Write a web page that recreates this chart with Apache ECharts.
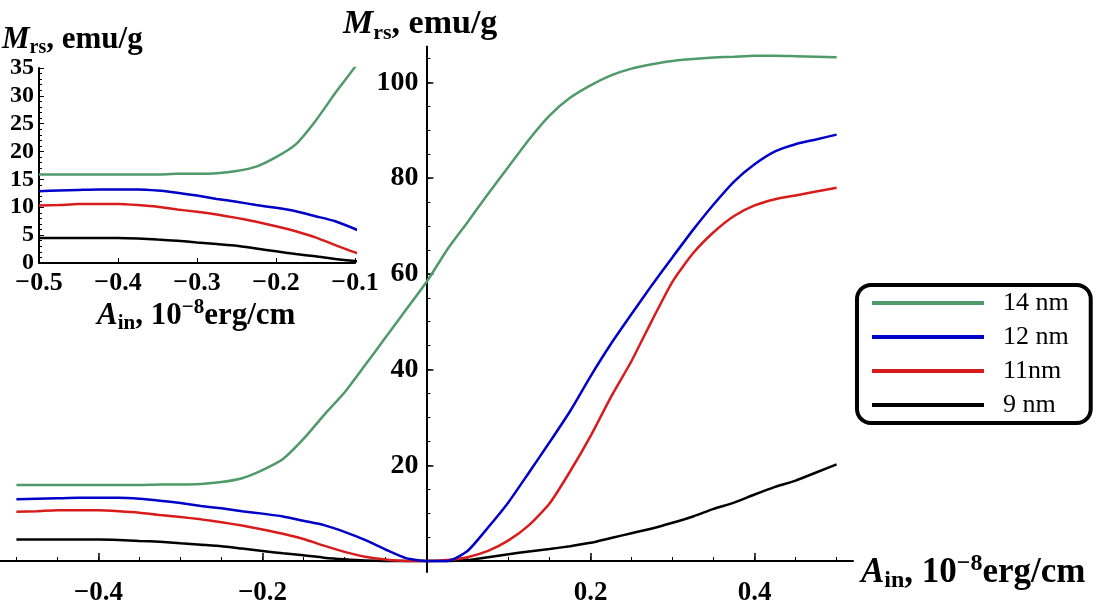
<!DOCTYPE html>
<html lang="en">
  <head>
    <meta charset="UTF-8" />
    <title>Mrs vs Ain</title>
    <style>
      body {
        margin: 0;
        background: #fff;
      }
      #chart {
        width: 1108px;
        height: 600px;
      }
    </style>
    <script src="https://cdn.jsdelivr.net/npm/echarts@6.0.0/dist/echarts.min.js"></script>
  </head>
  <body>
    <div id="chart"></div>

    <script>
      // A_in, 10^-8 erg/cm
      const ain = [
        -0.5, -0.475, -0.45, -0.425, -0.4, -0.375, -0.35, -0.325, -0.3, -0.275,
        -0.25, -0.225, -0.2, -0.175, -0.15, -0.125, -0.1, -0.075, -0.05, -0.025,
        0, 0.025, 0.05, 0.075, 0.1, 0.125, 0.15, 0.175, 0.2, 0.225, 0.25, 0.275,
        0.3, 0.325, 0.35, 0.375, 0.4, 0.425, 0.45, 0.475, 0.5,
      ];
      // M_rs, emu/g
      const m14 = [
        15.9, 15.9, 15.9, 15.9, 15.9, 15.9, 15.9, 16.0, 16.0, 16.1,
        16.5, 17.3, 19.0, 21.3, 25.5, 30.5, 35.2, 40.9, 46.7, 52.5,
        58.3, 65.0, 70.8, 76.7, 82.4, 88.1, 93.1, 96.8, 99.4, 101.5, 102.9, 103.8,
        104.5, 104.9, 105.2, 105.4, 105.6, 105.6, 105.5, 105.4, 105.3,
      ];
      const m12 = [
        12.9, 13.0, 13.1, 13.2, 13.2, 13.2, 13.0, 12.6, 12.1, 11.5,
        11.0, 10.4, 9.9, 9.3, 8.4, 7.5, 6.1, 4.4, 2.4, 0.6,
        0, 0, 2.1, 7.0, 12.3, 18.5, 24.8, 31.3, 38.6, 45.4, 51.6, 57.7,
        63.5, 69.2, 74.5, 79.3, 82.9, 85.6, 87.1, 88.1, 89.1,
      ];
      const m11 = [
        10.3, 10.4, 10.6, 10.6, 10.6, 10.4, 10.1, 9.6, 9.2, 8.7,
        8.1, 7.4, 6.6, 5.7, 4.6, 3.2, 1.9, 0.9, 0.3, 0,
        0, 0.2, 0.8, 2.1, 4.3, 7.5, 12.0, 18.7, 26.1, 34.3, 41.8, 50.3,
        58.4, 64.3, 68.7, 72.1, 74.3, 75.6, 76.4, 77.2, 78.0,
      ];
      const m9 = [
        4.5, 4.5, 4.5, 4.5, 4.5, 4.4, 4.2, 4.0, 3.7, 3.4,
        3.1, 2.6, 2.1, 1.6, 1.2, 0.7, 0.35, 0.1, 0, 0,
        0, 0, 0.2, 0.8, 1.4, 2.0, 2.5, 3.1, 3.8, 4.8, 5.8, 6.8,
        8.0, 9.3, 10.9, 12.2, 13.9, 15.5, 16.8, 18.5, 20.2,
      ];

      const names = ["14 nm", "12 nm", "11nm", "9 nm"];
      const values = [m14, m12, m11, m9];
      const colors = ["#4f9a68", "#0000c8", "#d81c1c", "#000000"];

      // tick positions
      const mainXTicks = [-0.4, -0.2, 0.2, 0.4];
      const mainXMinor = [
        -0.5, -0.45, -0.4, -0.35, -0.3, -0.25, -0.2, -0.15, -0.1, -0.05,
        0.05, 0.1, 0.15, 0.2, 0.25, 0.3, 0.35, 0.4, 0.45, 0.5,
      ];
      const mainYTicks = [20, 40, 60, 80, 100];
      const mainYMinor = [
        5, 10, 15, 20, 25, 30, 35, 40, 45, 50, 55, 60, 65, 70, 75, 80, 85, 90,
        95, 100, 105,
      ];

      const serif = "Liberation Serif";
      // the y axis sits at x = 0 of the main grid
      const yOffset = -426.4;

      function fmt(v) {
        return (v < 0 ? "\u2212" : "") + Math.abs(v).toFixed(1);
      }

      function nameRich(size, small) {
        const base = {
          fontFamily: serif,
          fontSize: size,
          fontWeight: "bold",
          color: "#000",
          lineHeight: size + 6,
        };
        const sm = { fontFamily: serif, fontSize: small, fontWeight: "bold", color: "#000" };
        return {
          i: Object.assign({}, base, { fontStyle: "italic" }),
          b: base,
          s: Object.assign({}, sm, { verticalAlign: "bottom" }),
          p: Object.assign({}, sm, { verticalAlign: "top" }),
        };
      }

      const mText = "{i|M}{s|rs}{b|, emu/g}";
      const aText = "{i|A}{s|in}{b|, 10}{p|\u22128}{b|erg/cm}";

      const tickLabel = (size) => ({
        fontFamily: serif,
        fontSize: size,
        fontWeight: "bold",
        color: "#000",
      });

      const series = [];
      names.forEach((name, k) => {
        const pts = ain.map((x, i) => [x, values[k][i]]);
        const style = {
          type: "line",
          name: name,
          data: pts,
          showSymbol: false,
          symbol: "none",
          smooth: 0.2,
          itemStyle: { color: colors[k] },
          lineStyle: { color: colors[k], width: 2.5 },
          z: 10 - k,
        };
        series.push(Object.assign({ xAxisIndex: 0, yAxisIndex: 0 }, style));
        series.push(Object.assign({ xAxisIndex: 2, yAxisIndex: 2, clip: true }, style));
      });

      const chart = echarts.init(document.getElementById("chart"));
      chart.setOption({
        animation: false,
        backgroundColor: "#fff",
        title: [
          { text: mText, left: 343, top: 4, padding: 0, textStyle: { rich: nameRich(34, 22) } },
          { text: aText, left: 861, top: 552, padding: 0, textStyle: { rich: nameRich(35, 24) } },
          { text: mText, left: 2, top: 21, padding: 0, textStyle: { rich: nameRich(31, 20) } },
          { text: aText, left: 97, top: 297, padding: 0, textStyle: { rich: nameRich(31, 21) } },
        ],
        legend: {
          data: names,
          orient: "vertical",
          left: 857,
          top: 285,
          padding: [5, 22, 5, 15],
          itemGap: 8,
          itemWidth: 112,
          itemHeight: 4,
          icon: "rect",
          borderColor: "#000",
          borderWidth: 4,
          borderRadius: 14,
          itemStyle: { borderWidth: 0 },
          textStyle: {
            fontFamily: serif,
            fontSize: 26,
            color: "#000",
            lineHeight: 26,
            padding: [0, 0, 0, 14],
          },
        },
        grid: [
          { left: 0, top: 46.6, width: 853, height: 525.4, outerBoundsMode: "none" },
          { left: 39, top: 68, width: 316, height: 195, outerBoundsMode: "none" },
        ],
        xAxis: [
          {
            type: "value",
            gridIndex: 0,
            position: "bottom",
            min: -0.52,
            max: 0.52,
            axisLine: { show: true, onZero: true, onZeroAxisIndex: 0, lineStyle: { color: "#000", width: 2 } },
            axisTick: { show: true, inside: true, length: 8, customValues: mainXTicks, lineStyle: { color: "#000", width: 1.5 } },
            axisLabel: { customValues: mainXTicks, formatter: fmt, margin: 8, ...tickLabel(27) },
            splitLine: { show: false },
          },
          {
            type: "value",
            gridIndex: 0,
            position: "bottom",
            min: -0.52,
            max: 0.52,
            axisLine: { show: false, onZero: true, onZeroAxisIndex: 0 },
            axisTick: { show: true, inside: true, length: 4, customValues: mainXMinor, lineStyle: { color: "#000", width: 1 } },
            axisLabel: { show: false },
            splitLine: { show: false },
          },
          {
            type: "value",
            gridIndex: 1,
            position: "bottom",
            min: -0.5,
            max: -0.1,
            interval: 0.1,
            axisLine: { show: true, onZero: false, lineStyle: { color: "#000", width: 2 } },
            axisTick: { show: true, inside: true, length: 5, lineStyle: { color: "#000", width: 1 } },
            axisLabel: { formatter: fmt, margin: 7, showMinLabel: true, showMaxLabel: true, ...tickLabel(26) },
            splitLine: { show: false },
          },
        ],
        yAxis: [
          {
            type: "value",
            gridIndex: 0,
            position: "left",
            offset: yOffset,
            min: -2.3,
            max: 107.5,
            axisLine: { show: true, onZero: false, lineStyle: { color: "#000", width: 2 } },
            axisTick: { show: true, inside: true, length: 7, customValues: mainYTicks, lineStyle: { color: "#000", width: 1.5 } },
            axisLabel: { customValues: mainYTicks, margin: 8, ...tickLabel(28) },
            splitLine: { show: false },
          },
          {
            type: "value",
            gridIndex: 0,
            position: "left",
            offset: yOffset,
            min: -2.3,
            max: 107.5,
            axisLine: { show: false, onZero: false },
            axisTick: { show: true, inside: true, length: 4, customValues: mainYMinor, lineStyle: { color: "#000", width: 1 } },
            axisLabel: { show: false },
            splitLine: { show: false },
          },
          {
            type: "value",
            gridIndex: 1,
            position: "left",
            min: 0,
            max: 35,
            interval: 5,
            axisLine: { show: true, onZero: false, lineStyle: { color: "#000", width: 2 } },
            axisTick: { show: true, inside: true, length: 5, lineStyle: { color: "#000", width: 1 } },
            minorTick: { show: true, splitNumber: 5, length: 3, lineStyle: { color: "#000", width: 1 } },
            axisLabel: { margin: 5, showMinLabel: true, showMaxLabel: true, ...tickLabel(24) },
            splitLine: { show: false },
          },
        ],
        series: series,
      });
    </script>
  </body>
</html>
